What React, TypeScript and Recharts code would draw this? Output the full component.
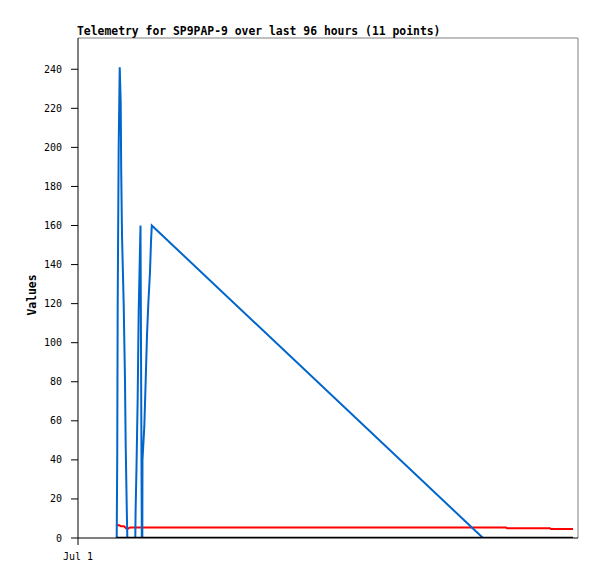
import React from 'react';
import { LineChart, Line, XAxis, YAxis, ReferenceLine } from 'recharts';

// x = hours since Jul 1 00:00, y = value
const blueSeries = [
  { t: 7.43, v: 0 }, { t: 7.53, v: 40 }, { t: 7.62, v: 120 }, { t: 7.81, v: 200 },
  { t: 8.01, v: 241 }, { t: 8.2, v: 223 }, { t: 8.29, v: 189 }, { t: 8.45, v: 155 },
  { t: 8.77, v: 120 }, { t: 9.02, v: 81 }, { t: 9.16, v: 47 }, { t: 9.35, v: 17 },
  { t: 9.47, v: 0 },
  { t: 11.0, v: 0 }, { t: 11.06, v: 14 }, { t: 11.23, v: 36 }, { t: 11.46, v: 72 },
  { t: 11.65, v: 116 }, { t: 12.0, v: 160 }, { t: 12.25, v: 0 }, { t: 12.35, v: 0 },
  { t: 12.38, v: 40 }, { t: 12.73, v: 57 }, { t: 13.0, v: 81 }, { t: 13.25, v: 104 },
  { t: 13.5, v: 120 }, { t: 13.82, v: 136 }, { t: 14.02, v: 152 }, { t: 14.17, v: 160 },
  { t: 77.76, v: 0 },
];

const redSeries = [
  { t: 7.49, v: 6.4 }, { t: 7.87, v: 6.6 }, { t: 8.26, v: 6.0 }, { t: 8.83, v: 6.0 },
  { t: 9.22, v: 5.0 }, { t: 9.6, v: 4.8 }, { t: 9.98, v: 5.4 }, { t: 82.18, v: 5.4 },
  { t: 82.37, v: 5.0 }, { t: 90.62, v: 5.0 }, { t: 90.82, v: 4.6 }, { t: 95.04, v: 4.6 },
];

const blackSeries = [
  { t: 7.43, v: 0 }, { t: 95.04, v: 0 },
];

const yTicks = [0, 20, 40, 60, 80, 100, 120, 140, 160, 180, 200, 220, 240];
const xTicks = [0];
const xTickLabels = ['Jul 1'];
const title = 'Telemetry for SP9PAP-9 over last 96 hours (11 points)';
const yLabel = 'Values';

const MONO = '"DejaVu Sans Mono", "Liberation Mono", monospace';

export default function App() {
  return (
    <div style={{ position: 'absolute', left: 0, top: 0, width: 597, height: 579, background: '#fff' }}>
      <LineChart
        width={597}
        height={579}
        margin={{ top: 38, right: 19, left: 0, bottom: 0 }}
      >
        <XAxis
          type="number"
          dataKey="t"
          domain={[0, 96]}
          ticks={xTicks}
          tickFormatter={(v: number) => xTickLabels[xTicks.indexOf(v)] ?? ''}
          height={41}
          tickSize={7}
          tickMargin={8}
          axisLine={{ stroke: '#000' }}
          tickLine={{ stroke: '#000' }}
          tick={{ fontSize: 10, fontFamily: MONO, fill: '#000' }}
          allowDataOverflow
        />
        <YAxis
          type="number"
          dataKey="v"
          domain={[0, 256]}
          ticks={yTicks}
          width={78}
          tickSize={7}
          tickMargin={9}
          axisLine={{ stroke: '#000' }}
          tickLine={{ stroke: '#000' }}
          tick={{ fontSize: 10, fontFamily: MONO, fill: '#000' }}
          allowDataOverflow
        />
        <ReferenceLine y={256} stroke="#808080" strokeWidth={1} />
        <ReferenceLine x={96} stroke="#808080" strokeWidth={1} />
        <Line data={redSeries} dataKey="v" type="linear" stroke="#ff0000" strokeWidth={2} dot={false} isAnimationActive={false} />
        <Line data={blueSeries} dataKey="v" type="linear" stroke="#0066cc" strokeWidth={2} dot={false} isAnimationActive={false} />
        <Line data={blackSeries} dataKey="v" type="linear" stroke="#000000" strokeWidth={2.5} dot={false} isAnimationActive={false} />
      </LineChart>
      <svg width={597} height={579} style={{ position: 'absolute', left: 0, top: 0, pointerEvents: 'none' }}>
        <text x={77} y={35} fontFamily={MONO} fontSize={11.4} fontWeight="bold" fill="#000">{title}</text>
        <text
          x={32}
          y={295}
          fontFamily={MONO}
          fontSize={11.4}
          fontWeight="bold"
          fill="#000"
          textAnchor="middle"
          dominantBaseline="central"
          transform="rotate(-90, 32, 295)"
        >
          {yLabel}
        </text>
      </svg>
    </div>
  );
}
